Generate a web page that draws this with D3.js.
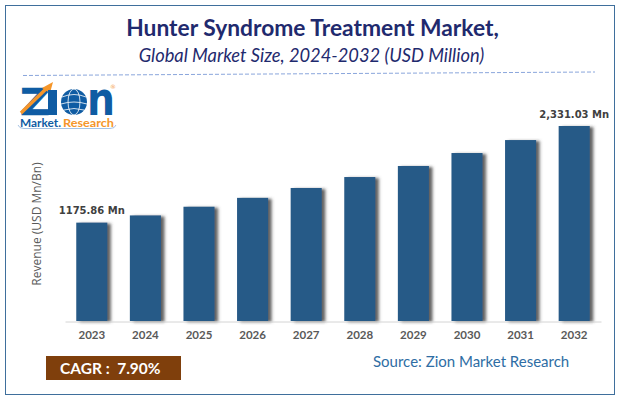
<!doctype html>
<html>
  <head>
    <title>Hunter Syndrome Treatment Market</title>
    <style>
      html, body { margin: 0; padding: 0; background: #fff; }
      svg { display: block; }
    </style>
  </head>
  <body>
    <svg width='620' height='400'></svg>

  <script src='https://d3js.org/d3.v7.min.js'></script>
  <script>
// Values; only the first and last are printed there.
var years = ['2023', '2024', '2025', '2026', '2027', '2028', '2029', '2030', '2031', '2032'];
var revenue = [1175.86, 1262, 1366, 1472, 1590, 1721, 1853, 2008, 2163, 2331.03];
var barLabels = ['1175.86 Mn', '', '', '', '', '', '', '', '', '2,331.03 Mn'];

var svg = d3.select('svg');

var x = d3.scaleBand().domain(years).range([65, 601]).paddingInner(0.42).paddingOuter(0.21);
var y = d3.scaleLinear().domain([0, 2331.03]).range([321, 126]);

// Soft shadow on the right of the bars
var defs = svg.append('defs');
var shadow = defs.append('filter').attr('id', 'barShadow')
  .attr('x', '-20%').attr('y', '-5%').attr('width', '150%').attr('height', '110%');
shadow.append('feDropShadow')
  .attr('dx', 3.5).attr('dy', 1).attr('stdDeviation', 1.6)
  .attr('flood-color', '#444').attr('flood-opacity', 0.85);

// Frame
svg.append('rect')
  .attr('x', 5.5).attr('y', 5.5).attr('width', 609).attr('height', 389)
  .attr('fill', '#fff').attr('stroke', '#3f6f9c').attr('stroke-width', 1);

// Titles
svg.append('text')
  .attr('x', 312.5).attr('y', 36).attr('text-anchor', 'middle')
  .style('font', 'bold 22.8px Lato').attr('fill', '#1f2a6e')
  .text('Hunter Syndrome Treatment Market,');
svg.append('text')
  .attr('x', 311.5).attr('y', 62).attr('text-anchor', 'middle')
  .style('font', 'italic 18.3px Lato').attr('fill', '#1f2a6e')
  .text('Global Market Size, 2024-2032 (USD Million)');

svg.append('line')
  .attr('x1', 23).attr('y1', 75.5).attr('x2', 595).attr('y2', 72)
  .attr('stroke', '#8aa6dc').attr('stroke-width', 1).attr('stroke-dasharray', '4 2');

// Logo
var logo = svg.append('g');
logo.append('text').attr('x', 20).attr('y', 115).attr('textLength', 30).attr('lengthAdjust', 'spacingAndGlyphs')
  .style('font', 'bold 37px "DejaVu Sans"').attr('fill', '#0f5ca3')
  .attr('stroke', '#0f5ca3').attr('stroke-width', 0.6).text('Z');
logo.append('path').attr('d', 'M21 113L47 88').attr('stroke', '#f5962a').attr('stroke-width', 3.5).attr('fill', 'none');
logo.append('path').attr('d', 'M42 88L53 82L50 93Z').attr('fill', '#f5962a');
logo.append('rect').attr('x', 48).attr('y', 90).attr('width', 9).attr('height', 25).attr('fill', '#0f5ca3');
logo.append('circle').attr('cx', 74).attr('cy', 102).attr('r', 13).attr('fill', '#0f5ca3');
logo.append('ellipse').attr('cx', 74).attr('cy', 102).attr('rx', 6).attr('ry', 13)
  .attr('fill', 'none').attr('stroke', '#fff').attr('stroke-width', 0.8);
logo.append('path').attr('d', 'M62 97Q74 92 86 97M61 104Q74 100 87 104M64 110Q74 107 84 110')
  .attr('fill', 'none').attr('stroke', '#fff').attr('stroke-width', 0.8);
logo.append('text').attr('x', 87).attr('y', 115).attr('textLength', 28).attr('lengthAdjust', 'spacingAndGlyphs')
  .style('font', 'bold 46px "DejaVu Sans"').attr('fill', '#0f5ca3').text('n');
logo.append('text').attr('x', 110).attr('y', 89)
  .style('font', '6px "DejaVu Sans"').attr('fill', '#f5a14a').text('®');
logo.append('text').attr('x', 20).attr('y', 127).attr('textLength', 41).attr('lengthAdjust', 'spacingAndGlyphs')
  .style('font', 'bold 11.5px Lato').attr('fill', '#0f5ca3').text('Market.');
logo.append('text').attr('x', 63).attr('y', 127).attr('textLength', 51).attr('lengthAdjust', 'spacingAndGlyphs')
  .style('font', 'bold 11.5px Lato').attr('fill', '#f5962a').text('Research');
logo.append('path').attr('d', 'M18 125Q19 128.5 24 128.5H110Q115 128.5 116 125')
  .attr('fill', 'none').attr('stroke', '#8fb4dc').attr('stroke-width', 0.8);

// Bars
svg.selectAll('.bar')
  .data(years)
  .enter().append('rect')
  .attr('class', 'bar')
  .attr('x', function(d) { return x(d); })
  .attr('width', x.bandwidth())
  .attr('y', function(d, i) { return y(revenue[i]); })
  .attr('height', function(d, i) { return y(0) - y(revenue[i]); })
  .attr('fill', '#275a87')
  .attr('filter', 'url(#barShadow)');

// Labels above first and last bars
svg.selectAll('.bar-label')
  .data(years)
  .enter().append('text')
  .attr('class', 'bar-label')
  .attr('x', function(d) { return x(d) + x.bandwidth() / 2; })
  .attr('y', function(d, i) { return y(revenue[i]) - 8.5; })
  .attr('text-anchor', 'middle')
  .style('font', 'bold 10px "DejaVu Sans"')
  .attr('fill', '#404040')
  .text(function(d, i) { return barLabels[i]; });

// X axis
var xAxis = svg.append('g')
  .attr('transform', 'translate(0,321.5)')
  .call(d3.axisBottom(x).tickSize(0).tickPadding(9));
xAxis.select('.domain').attr('stroke', '#d4d4d4').attr('stroke-width', 1);
xAxis.selectAll('text')
  .style('font', 'bold 11.5px Lato')
  .attr('fill', '#595959');

// Y axis title
svg.append('text')
  .attr('transform', 'translate(41,224) rotate(-90)')
  .attr('text-anchor', 'middle')
  .style('font', '12px "Open Sans"')
  .attr('fill', '#595959')
  .text('Revenue (USD Mn/Bn)');

// Source and CAGR
svg.append('text')
  .attr('x', 373).attr('y', 367)
  .style('font', '15px Lato').attr('fill', '#2e6da4')
  .text('Source: Zion Market Research');

svg.append('rect')
  .attr('x', 46).attr('y', 356).attr('width', 135).attr('height', 24)
  .attr('fill', '#7f3f0c');
svg.append('text')
  .attr('x', 60).attr('y', 374)
  .style('white-space', 'pre')
  .style('font', 'bold 15.5px Lato').attr('fill', '#fff')
  .text('CAGR :  7.90%');
  </script>
  </body>
</html>
